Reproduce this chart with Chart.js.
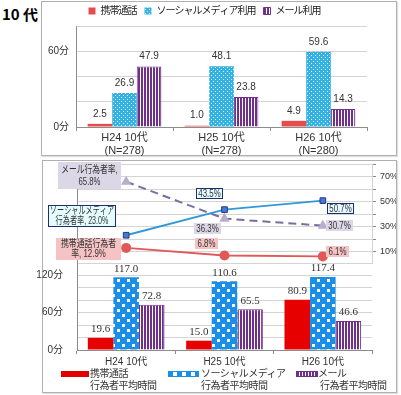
<!DOCTYPE html>
<html>
<head>
<meta charset="utf-8">
<script src="https://cdn.jsdelivr.net/npm/chart.js@4.4.0/dist/chart.umd.min.js"></script>
<style>
  body { margin: 0; width: 401px; height: 395px; position: relative; overflow: hidden; background: #fff;
         font-family: "Liberation Sans", "Noto Sans CJK JP", sans-serif; color: #333; }
  .panel { position: absolute; border: 1px solid #b0b0b0; box-shadow: 1px 1px 1px #e0e0e0; }
  canvas { position: absolute; }
  #title { position: absolute; left: 2px; top: 3px; font: bold 15px "Noto Sans CJK JP", sans-serif; color: #000; }
  .lg { position: absolute; font: 10px "Noto Sans CJK JP", sans-serif; color: #333; line-height: 12px;
        white-space: nowrap; letter-spacing: -0.5px; }
  .sw { position: absolute; height: 6px; }
</style>
</head>
<body>
<div id="title">10 代</div>
<div class="panel" style="left:41px;top:1px;width:354px;height:153px"></div>
<div class="panel" style="left:42px;top:160px;width:353px;height:231px"></div>

<canvas id="topChart" width="354" height="160" style="left:42px;top:-2px"></canvas>
<canvas id="rateChart" width="354" height="103" style="left:42px;top:161px"></canvas>
<canvas id="doerChart" width="360" height="108" style="left:36px;top:258px"></canvas>

<!-- legend of the lower bar chart -->
<div class="sw" style="left:61px;top:371px;width:28px;background:#e00000"></div>
<div class="lg" style="left:90px;top:367px">携帯通話<br>行為者平均時間</div>
<div class="sw" style="left:168px;top:371px;width:31px;background:linear-gradient(#1b8fe8 0 1px, transparent 1px 5px, #1b8fe8 5px), repeating-linear-gradient(90deg, #1b8fe8 0 5px, #fff 5px 9px)"></div>
<div class="lg" style="left:201px;top:367px">ソーシャルメディア<br>行為者平均時間</div>
<div class="sw" style="left:296px;top:371px;width:20px;height:4px;border:1px solid #702f8a;background:repeating-linear-gradient(90deg, #702f8a 0 2px, #fff 2px 3px)"></div>
<div class="lg" style="left:318px;top:367px">メール<br><span style="margin-left:2px">行為者平均時間</span></div>

<script>
// categories
const categories = ["H24 10代", "H25 10代", "H26 10代"];
const sampleSizes = ["(N=278)", "(N=278)", "(N=280)"];

// top chart: average use time per person (minutes)
const topSeriesNames = ["携帯通話", "ソーシャルメディア利用", "メール利用"];
const timePhone = [2.5, 1.0, 4.9];
const timeSocial = [26.9, 48.1, 59.6];
const timeMail = [47.9, 23.8, 14.3];
const topMinuteTicks = [0, 60];

// lower chart: doer rates (%)
const rateNames = ["携帯通話行為者率", "ソーシャルメディア行為者率", "メール行為者率"];
const ratePhone = [12.9, 6.8, 6.1];
const rateSocial = [23.0, 43.5, 50.7];
const rateMail = [65.8, 36.3, 30.7];
const rateTicks = [10, 30, 50, 70];

// lower chart: average time of doers (minutes)
const doerSeriesNames = ["携帯通話行為者平均時間", "ソーシャルメディア行為者平均時間", "メール行為者平均時間"];
const doerPhone = [19.6, 15.0, 80.9];
const doerSocial = [117.0, 110.6, 117.4];
const doerMail = [72.8, 65.5, 46.6];
const doerMinuteTicks = [0, 60, 120];

// fill patterns
function dotPattern(bg, size, dot) {
  const c = document.createElement("canvas");
  c.width = size; c.height = size;
  const g = c.getContext("2d");
  g.fillStyle = bg; g.fillRect(0, 0, size, size);
  g.fillStyle = "#fff";
  g.fillRect(1, 1, dot, dot);
  g.fillRect(1 + size / 2, 1 + size / 2, dot, dot);
  return g.createPattern(c, "repeat");
}
function stripePattern(color, on, off) {
  const c = document.createElement("canvas");
  c.width = on + off; c.height = 1;
  const g = c.getContext("2d");
  g.fillStyle = "#fff"; g.fillRect(0, 0, on + off, 1);
  g.fillStyle = color; g.fillRect(0, 0, on, 1);
  return g.createPattern(c, "repeat");
}

// fixed axis size, no extra padding from tick labels
const fixWidth = (w) => (s) => { s.width = w; s.paddingTop = 0; s.paddingBottom = 0; };

// values above bars
const barValues = {
  id: "barValues",
  afterDatasetsDraw(chart, args, opts) {
    const ctx = chart.ctx;
    ctx.save();
    ctx.font = opts.font;
    ctx.fillStyle = "#333";
    ctx.textAlign = "center";
    ctx.textBaseline = "bottom";
    chart.data.datasets.forEach((ds, i) => {
      chart.getDatasetMeta(i).data.forEach((bar, j) => {
        ctx.fillText(ds.data[j].toFixed(1), bar.x, bar.y - opts.gap);
      });
    });
    ctx.restore();
  }
};

// fixed legend block height and tighter letters
const fixLegend = {
  id: "fixLegend",
  afterInit(chart, args, opts) {
    const lg = chart.legend;
    if (!lg) return;
    const fit = lg.fit, draw = lg.draw;
    lg.fit = function () {
      const old = this.ctx.letterSpacing;
      this.ctx.letterSpacing = opts.letterSpacing;
      fit.call(this);
      this.ctx.letterSpacing = old;
      this.height = opts.height;
    };
    lg.draw = function () {
      const old = this.ctx.letterSpacing;
      this.ctx.letterSpacing = opts.letterSpacing;
      draw.call(this);
      this.ctx.letterSpacing = old;
    };
  }
};

// boxed labels on the rate lines
const rateBoxes = {
  id: "rateBoxes",
  afterDatasetsDraw(chart, args, opts) {
    const ctx = chart.ctx;
    ctx.save();
    ctx.font = opts.font;
    ctx.textAlign = "center";
    ctx.textBaseline = "middle";
    chart.data.datasets.forEach((ds, i) => {
      const st = opts.styles[i];
      chart.getDatasetMeta(i).data.forEach((pt, j) => {
        const v = ds.data[j].toFixed(1) + "%";
        let lines = [v];
        let w, h, k = opts.squeeze;
        if (j === 0) {
          const full = rateNames[i] + ", " + v;
          lines = [full.slice(0, st.breakAt), full.slice(st.breakAt).trim()];
          [w, h] = st.firstSize;
          k = st.squeeze;
        } else {
          w = Math.round(ctx.measureText(v).width * k) + 5;
          h = 11;
        }
        const cx = pt.x + st.offsets[j][0];
        const cy = pt.y + st.offsets[j][1];
        const x0 = Math.round(cx - w / 2), y0 = Math.round(cy - h / 2);
        ctx.fillStyle = st.bg;
        ctx.fillRect(x0, y0, w, h);
        if (st.border) {
          ctx.strokeStyle = st.border;
          ctx.lineWidth = 1;
          ctx.strokeRect(x0 + 0.5, y0 + 0.5, w - 1, h - 1);
        }
        ctx.fillStyle = "#333";
        const lh = st.lineHeight;
        lines.forEach((l, n) => {
          ctx.save();
          ctx.translate(x0 + w / 2, y0 + h / 2 - (lines.length - 1) * lh / 2 + n * lh + 0.5);
          ctx.scale(k, 1);
          ctx.fillText(l, 0, 0);
          ctx.restore();
        });
      });
    });
    ctx.restore();
  }
};

const FONT = "'Liberation Sans', 'Noto Sans CJK JP', sans-serif";
const gridGray = "#d4d4d4";
const axisGray = "#8c8c8c";

// ---------- top chart ----------
new Chart(document.getElementById("topChart"), {
  type: "bar",
  data: {
    labels: categories.map((c, i) => [c, sampleSizes[i]]),
    datasets: [
      { label: topSeriesNames[0], data: timePhone, backgroundColor: "#e64c4c" },
      { label: topSeriesNames[1], data: timeSocial, backgroundColor: dotPattern("#2fb2e4", 4, 1) },
      { label: topSeriesNames[2], data: timeMail, backgroundColor: stripePattern("#702f8a", 2, 1),
        borderColor: "#702f8a", borderWidth: 1 }
    ]
  },
  options: {
    responsive: false,
    animation: false,
    layout: { padding: { left: 0, right: 29, top: 0, bottom: 0 } },
    datasets: { bar: { categoryPercentage: 0.76, barPercentage: 1 } },
    scales: {
      x: {
        grid: { drawOnChartArea: false, tickLength: 4, color: axisGray },
        border: { color: axisGray },
        ticks: { color: "#333", font: { family: FONT, size: 11 }, padding: 0 },
        afterFit: (s) => { s.height = 31; }
      },
      y: {
        min: 0, max: 80,
        ticks: { stepSize: 20, autoSkip: false, color: "#333", font: { family: FONT, size: 10 }, padding: 7,
                 callback: (v) => topMinuteTicks.includes(v) ? v + "分" : "" },
        grid: { color: gridGray, drawTicks: false },
        border: { color: axisGray },
        afterFit: fixWidth(34)
      }
    },
    plugins: {
      legend: {
        labels: { boxWidth: 7, boxHeight: 7, padding: 8, color: "#222",
                  font: { family: FONT, size: 10 } }
      },
      tooltip: { enabled: false },
      fixLegend: { height: 28, letterSpacing: "-1px" },
      barValues: { font: "10px " + FONT, gap: 5 }
    }
  },
  plugins: [fixLegend, barValues]
});

// ---------- lower chart: rates ----------
new Chart(document.getElementById("rateChart"), {
  type: "line",
  data: {
    labels: categories,
    datasets: [
      { label: rateNames[0], data: ratePhone, borderColor: "#e25858", backgroundColor: "#e25858",
        borderWidth: 2, pointStyle: "circle", pointRadius: 4 },
      { label: rateNames[1], data: rateSocial, borderColor: "#2f9ad6", backgroundColor: "#4a78d2",
        pointBorderColor: "#1f3a8c", pointBorderWidth: 1, borderWidth: 2, pointStyle: "rect", pointRadius: 4 },
      { label: rateNames[2], data: rateMail, borderColor: "#7c6c9e", backgroundColor: "#b7aecb",
        pointBorderColor: "#b7aecb", borderWidth: 2, borderDash: [8, 5], pointStyle: "triangle", pointRadius: 4 }
    ]
  },
  options: {
    responsive: false,
    animation: false,
    layout: { autoPadding: false, padding: { left: 0, right: 0, top: 3, bottom: 0 } },
    scales: {
      x: { display: false, offset: true },
      yl: {
        position: "left", min: 0, max: 80,
        ticks: { display: false },
        grid: { display: false },
        border: { color: axisGray },
        afterFit: fixWidth(35)
      },
      y: {
        position: "right", min: 0, max: 80,
        ticks: { stepSize: 10, autoSkip: false, color: "#333", font: { family: FONT, size: 9 }, padding: 4,
                 callback: (v) => rateTicks.includes(v) ? v + "%" : "" },
        grid: { color: gridGray, tickLength: 4, tickColor: axisGray },
        border: { color: gridGray },
        afterFit: fixWidth(24)
      }
    },
    plugins: {
      legend: { display: false },
      tooltip: { enabled: false },
      rateBoxes: {
        font: "10.5px " + FONT,
        squeeze: 0.75,
        styles: [
          { bg: "#f5c3c3", border: null, breakAt: 7, firstSize: [65, 22], lineHeight: 10, squeeze: 0.75,
            offsets: [[-38, 1], [-18, -12], [15, -5]] },
          { bg: "#e4fbff", border: "#1d2d6e", breakAt: 9, firstSize: [68, 22], lineHeight: 10, squeeze: 0.68,
            offsets: [[-44, -19], [-15, -16], [18, 8]] },
          { bg: "#dcd7e6", border: null, breakAt: 8, firstSize: [63, 27], lineHeight: 12, squeeze: 0.74,
            offsets: [[-37, -6], [-17, 10], [17, 0]] }
        ]
      }
    }
  },
  plugins: [rateBoxes]
});

// ---------- lower chart: doer time ----------
new Chart(document.getElementById("doerChart"), {
  type: "bar",
  data: {
    labels: categories,
    datasets: [
      { label: doerSeriesNames[0], data: doerPhone, backgroundColor: "#e60000" },
      { label: doerSeriesNames[1], data: doerSocial, backgroundColor: dotPattern("#1b8fe8", 10, 3) },
      { label: doerSeriesNames[2], data: doerMail, backgroundColor: stripePattern("#702f8a", 2, 1),
        borderColor: "#702f8a", borderWidth: 1 }
    ]
  },
  options: {
    responsive: false,
    animation: false,
    layout: { padding: { left: 0, right: 24, top: 5, bottom: 0 } },
    datasets: { bar: { categoryPercentage: 0.78, barPercentage: 1 } },
    scales: {
      x: {
        grid: { drawOnChartArea: false, tickLength: 4, color: axisGray },
        border: { color: axisGray },
        ticks: { color: "#333", font: { family: FONT, size: 10 }, padding: 2 },
        afterFit: (s) => { s.height = 16; }
      },
      y: {
        min: 0, max: 140,
        ticks: { stepSize: 20, autoSkip: false, color: "#333", font: { family: FONT, size: 10 }, padding: 14,
                 callback: (v) => doerMinuteTicks.includes(v) ? v + "分" : "" },
        grid: { color: gridGray, drawTicks: false },
        border: { color: axisGray },
        afterFit: fixWidth(41)
      }
    },
    plugins: {
      legend: { display: false },
      tooltip: { enabled: false },
      barValues: { font: "11px 'Liberation Serif', serif", gap: 3 }
    }
  },
  plugins: [barValues]
});
</script>
</body>
</html>
